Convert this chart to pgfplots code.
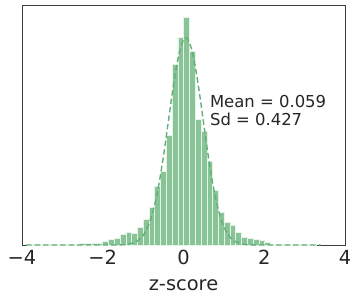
\documentclass[border=0pt]{standalone}
\usepackage{pgfplots}
\pgfplotsset{compat=1.18}
\usepackage{fontspec}
\setmainfont{DejaVu Sans}
\definecolor{barfill}{RGB}{136,196,149}
\definecolor{curvecol}{RGB}{98,176,118}
\definecolor{framecol}{RGB}{60,60,60}
\begin{document}
\begin{tikzpicture}[x=1bp,y=1bp]
\begin{axis}[
  name=ax,
  at={(0,0)}, anchor=south west,
  width=323bp, height=240bp, scale only axis,
  xmin=-4, xmax=4, ymin=0, ymax=240,
  axis line style={framecol, line width=0.8bp},
  xtick={-4,-2,0,2,4},
  xticklabels={−4,−2,0,2,4},
  ytick=\empty,
  major tick length=0pt,
  tick style={draw=none},
  xticklabel style={font=\fontsize{19.5}{22}\selectfont, text=black!85, yshift=-1.5bp},
  xlabel={z-score},
  xlabel style={font=\fontsize{19.5}{22}\selectfont, text=black!85, at={(axis description cs:0.5,0)}, anchor=base, yshift=-45.5bp},
  clip=true,
]
\addplot[ybar interval, fill=barfill, draw=white!80!barfill, line width=0.7bp] coordinates {
(-3.863,0.3) (-3.720,0.2) (-3.576,0.3) (-3.433,0.3) (-3.290,0.4) (-3.146,0.3)
(-3.003,0.5) (-2.860,0.6) (-2.717,0.8) (-2.573,1.2) (-2.430,1.8) (-2.287,1.3)
(-2.143,2.0) (-2.000,3.6) (-1.857,5.2) (-1.713,6.7) (-1.570,11) (-1.427,13)
(-1.284,11.8) (-1.140,17.3) (-0.997,26) (-0.854,38) (-0.710,59) (-0.567,74)
(-0.424,110) (-0.280,181) (-0.137,208) (0.006,228) (0.150,194) (0.293,126)
(0.436,114) (0.579,84) (0.723,55) (0.866,33) (1.009,23) (1.153,20)
(1.296,13) (1.439,7.8) (1.583,7) (1.726,5.5) (1.869,5) (2.012,3)
(2.156,0.4) (2.299,0.3) (2.442,0.5) (2.586,0.3) (2.729,0.3) (2.872,0.4)
(3.016,0.3) (3.159,0.2) (3.302,0.2)
};
\addplot[curvecol, line width=1.4bp, dash pattern=on 5.5bp off 3bp, smooth] coordinates {
(-3.9,0) (-2.5,0) (-2.0,0.001) (-1.8,0.01) (-1.6,0.11) (-1.4,0.60) (-1.2,2.68) (-1.1,5.21)
(-1.0,9.57) (-0.9,16.6) (-0.8,27.4) (-0.7,42.6) (-0.6,62.9) (-0.5,87.9)
(-0.4,116.2) (-0.3,145.4) (-0.2,172.2) (-0.1,193.1) (0.0,205.0) (0.059,207)
(0.1,206.0) (0.2,196.0) (0.3,176.5) (0.4,150.5) (0.5,121.4) (0.6,92.8)
(0.7,67.1) (0.8,45.9) (0.9,29.8) (1.0,18.3) (1.1,10.6) (1.2,5.83)
(1.3,3.03) (1.5,0.70) (1.7,0.13) (1.9,0.02) (2.1,0.002) (2.5,0) (3.4,0)
};
\node[anchor=base west, font=\fontsize{16.5}{19}\selectfont, text=black!85, inner sep=0pt] at (axis cs:0.653,137.7) {Mean = 0.059};
\node[anchor=base west, font=\fontsize{16.5}{19}\selectfont, text=black!85, inner sep=0pt] at (axis cs:0.653,120) {Sd = 0.427};
\end{axis}
\path (ax.south west) ++(-22bp,-56bp) coordinate (bl);
\path (ax.north east) ++(12bp,5bp) coordinate (tr);
\path (bl) rectangle (tr);
\end{tikzpicture}
\end{document}
